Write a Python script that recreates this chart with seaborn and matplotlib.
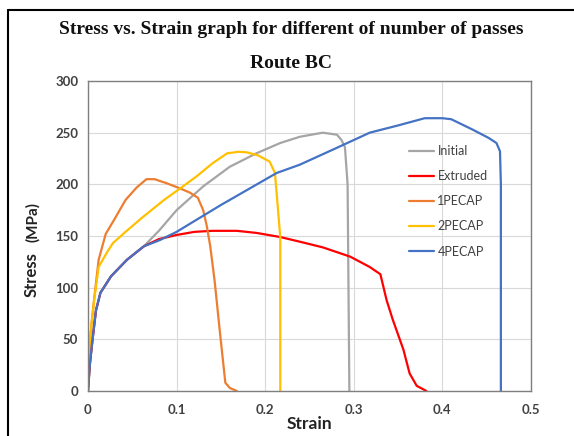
import matplotlib
matplotlib.use("Agg")
import matplotlib.pyplot as plt
from matplotlib.lines import Line2D
import seaborn as sns
import pandas as pd

# ---------------- data ----------------
series_names = ["Initial", "Extruded", "1PECAP", "2PECAP", "4PECAP"]

initial_strain = [0, 0.002, 0.005, 0.009, 0.014, 0.026, 0.044, 0.063, 0.08, 0.1, 0.13, 0.16,
                  0.19, 0.217, 0.239, 0.265, 0.281, 0.286, 0.29, 0.293, 0.294, 0.295]
initial_stress = [0, 25, 49, 78, 95, 111, 127, 140, 155, 175, 198, 217,
                  230, 240, 246, 250, 248, 243, 236, 200, 100, 0]

extruded_strain = [0, 0.002, 0.005, 0.009, 0.014, 0.026, 0.044, 0.063, 0.08, 0.1, 0.12, 0.14,
                   0.168, 0.19, 0.217, 0.239, 0.265, 0.296, 0.318, 0.33, 0.337, 0.344, 0.356,
                   0.363, 0.371, 0.382]
extruded_stress = [0, 25, 49, 78, 95, 111, 127, 140, 147, 151, 154, 155,
                   155, 153, 149, 144.5, 139, 130, 120, 113, 88, 69, 40,
                   17, 5, 0]

pecap1_strain = [0, 0.001, 0.004, 0.0068, 0.012, 0.02, 0.029, 0.0425, 0.055, 0.066, 0.075,
                 0.089, 0.104, 0.115, 0.124, 0.13, 0.134, 0.138, 0.143, 0.149, 0.155, 0.16, 0.168]
pecap1_stress = [0, 33, 65, 88, 127, 152, 165, 185, 197, 205, 205,
                 201, 196, 192, 187, 175, 160, 140, 106, 56, 8, 3, 0]

pecap2_strain = [0, 0.001, 0.004, 0.007, 0.012, 0.021, 0.028, 0.041, 0.06, 0.086, 0.104,
                 0.123, 0.14, 0.157, 0.17, 0.179, 0.192, 0.205, 0.211, 0.214, 0.217, 0.217]
pecap2_stress = [28, 40, 65, 88, 120, 133.5, 143, 153, 167, 185, 196,
                 208, 220, 230, 231.5, 231, 228, 222, 211, 180, 149, 0]

pecap4_strain = [0, 0.002, 0.005, 0.009, 0.014, 0.026, 0.044, 0.063, 0.081, 0.1, 0.15,
                 0.213, 0.239, 0.28, 0.318, 0.35, 0.38, 0.40, 0.41, 0.434, 0.452, 0.461,
                 0.465, 0.466, 0.466]
pecap4_stress = [0, 25, 49, 78, 95, 111, 127, 140, 146, 154, 180,
                 211, 219, 235, 250, 257, 264, 264, 263, 253, 245, 240,
                 232, 200, 0]

x_ticks = [0, 0.1, 0.2, 0.3, 0.4, 0.5]
x_tick_labels = ["0", "0.1", "0.2", "0.3", "0.4", "0.5"]
y_ticks = [0, 50, 100, 150, 200, 250, 300]

colors = ["#A5A5A5", "#FF0000", "#ED7D31", "#FFC000", "#4472C4"]

# ---------------- frame ----------------
all_x = [initial_strain, extruded_strain, pecap1_strain, pecap2_strain, pecap4_strain]
all_y = [initial_stress, extruded_stress, pecap1_stress, pecap2_stress, pecap4_stress]
rows = []
for name, xs, ys in zip(series_names, all_x, all_y):
    for i, (xv, yv) in enumerate(zip(xs, ys)):
        rows.append({"Strain": xv, "Stress": yv, "Series": name, "order": i})
df = pd.DataFrame(rows)

sns.set_theme(style="white")
plt.rcParams["font.family"] = ["Lato", "DejaVu Sans"]

fig = plt.figure(figsize=(5.74, 4.36), dpi=100)
ax = fig.add_axes([88 / 574, 1 - 391 / 436, (531 - 88) / 574, (391 - 81) / 436])

sns.lineplot(data=df, x="Strain", y="Stress", hue="Series", hue_order=series_names,
             palette=colors, estimator=None, sort=False, linewidth=1.6, ax=ax)

ax.set_xlim(0, 0.5)
ax.set_ylim(0, 300)
ax.set_xticks(x_ticks)
ax.set_xticklabels(x_tick_labels)
ax.set_yticks(y_ticks)
ax.grid(True, color="#D9D9D9", linewidth=0.8)
ax.set_axisbelow(True)
for s in ax.spines.values():
    s.set_color("#7F7F7F")
    s.set_linewidth(1.0)
ax.tick_params(axis="both", direction="out", length=4, width=1, color="#595959",
               labelsize=9.5, labelcolor="#404040", pad=3)
for lbl in ax.get_xticklabels() + ax.get_yticklabels():
    lbl.set_fontweight("bold")
ax.xaxis.set_tick_params(pad=5)

ax.set_xlabel("")
ax.set_ylabel("")
fig.text(309 / 574, 1 - 424 / 436, "Strain", ha="center", va="center",
         fontsize=12.5, fontweight="bold", color="#222222")
fig.text(32 / 574, 1 - 275 / 436, "Stress", ha="center", va="center", rotation=90,
         fontsize=12, fontweight="bold", color="#222222")
fig.text(33 / 574, 1 - 222 / 436, "(MPa)", ha="center", va="center", rotation=90,
         fontsize=11, fontweight="bold", color="#222222")

fig.text(291 / 574, 1 - 30 / 436, "Stress vs. Strain graph for different of number of passes",
         ha="center", va="center", fontsize=14, fontweight="bold",
         family="Liberation Serif", color="#111111")
fig.text(291 / 574, 1 - 64 / 436, "Route BC", ha="center", va="center", fontsize=14,
         fontweight="bold", family="Liberation Serif", color="#111111")

leg = ax.legend(frameon=False, loc="upper left",
                bbox_to_anchor=((409 - 88) / 443 - 0.012, 1 - (140 - 81) / 310),
                fontsize=9, handlelength=2.0, handletextpad=0.3, labelspacing=1.05,
                borderaxespad=0)
for t in leg.get_texts():
    t.set_color("#404040")

# outer border (only top and left are visible in the picture)
fig.add_artist(Line2D([8 / 574, 8 / 574], [0, 1 - 10 / 436], transform=fig.transFigure,
                      color="black", linewidth=1.5))
fig.add_artist(Line2D([8 / 574, 1], [1 - 10 / 436, 1 - 10 / 436], transform=fig.transFigure,
                      color="black", linewidth=1.5))

fig.savefig("out.png", dpi=100)
